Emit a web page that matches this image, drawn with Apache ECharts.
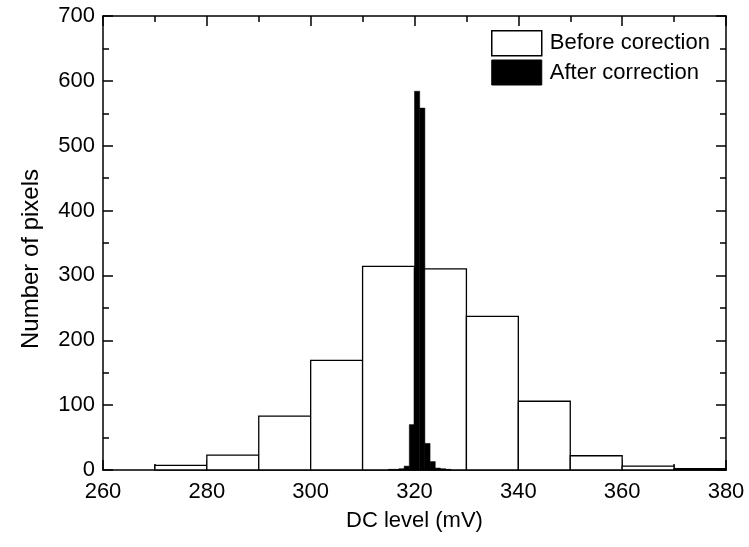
<!DOCTYPE html>
<html>
<head>
<meta charset="utf-8">
<script src="https://cdn.jsdelivr.net/npm/echarts@6/dist/echarts.min.js"></script>
<style>html,body{margin:0;padding:0;background:#fff}#c{width:749px;height:547px}</style>
</head>
<body>
<div id="c"></div>
<script>
// Before correction: 10 mV bins
const beforeBinStart = [270, 280, 290, 300, 310, 320, 330, 340, 350, 360, 370];
const beforeBinWidth = 10;
const beforeCounts   = [7, 23, 83, 169, 314, 310, 237, 106, 22, 6, 2];
// After correction: 1 mV bins
const afterBinStart = [315, 316, 317, 318, 319, 320, 321, 322, 323, 324, 325, 326];
const afterBinWidth = 1;
const afterCounts   = [1, 1, 2, 6, 70, 584, 558, 41, 13, 3, 2, 1];

const xTicks = [260, 280, 300, 320, 340, 360, 380];
const yTicks = [0, 100, 200, 300, 400, 500, 600, 700];

const FONT = 'Liberation Sans, Arial, sans-serif';
const FS = 22;

function toBins(starts, w, counts) {
  return starts.map((s, i) => [s, s + w, counts[i]]);
}

function makeRender(fill, stroke, lw) {
  return function (params, api) {
    const x0 = api.value(0), x1 = api.value(1), v = api.value(2);
    const p0 = api.coord([x0, v]);
    const p1 = api.coord([x1, 0]);
    return {
      type: 'rect',
      shape: { x: p0[0], y: p0[1], width: p1[0] - p0[0], height: p1[1] - p0[1] },
      style: { fill: fill, stroke: stroke, lineWidth: lw }
    };
  };
}

const axisCommon = {
  axisLine: { show: true, onZero: false, lineStyle: { color: '#000', width: 1.5 } },
  axisTick: { show: true, inside: true, length: 10, lineStyle: { color: '#000', width: 1.5 } },
  minorTick: { show: true, splitNumber: 2, length: 6, lineStyle: { color: '#000', width: 1.5 } },
  splitLine: { show: false }
};

const chart = echarts.init(document.getElementById('c'), null, { renderer: 'canvas' });
chart.setOption({
  animation: false,
  backgroundColor: '#fff',
  grid: { left: 103, right: 23, top: 16, bottom: 77 },
  legend: {
    orient: 'vertical',
    left: 491, top: 30,
    padding: 0,
    itemWidth: 50, itemHeight: 25, itemGap: 3,
    icon: 'rect',
    textStyle: { fontFamily: FONT, fontSize: FS, color: '#000', padding: [0, 0, 0, 3] },
    data: [
      { name: 'Before corection', itemStyle: { color: '#fff', borderColor: '#000', borderWidth: 1.5 } },
      { name: 'After correction', itemStyle: { color: '#000', borderColor: '#000', borderWidth: 1 } }
    ]
  },
  xAxis: [
    Object.assign({
      type: 'value', position: 'bottom', min: xTicks[0], max: xTicks[xTicks.length - 1], interval: 20,
      name: 'DC level (mV)', nameLocation: 'middle', nameGap: 40,
      nameTextStyle: { fontFamily: FONT, fontSize: FS, color: '#000' },
      axisLabel: { fontFamily: FONT, fontSize: FS, color: '#000', margin: 11 }
    }, axisCommon),
    Object.assign({
      type: 'value', position: 'top', min: xTicks[0], max: xTicks[xTicks.length - 1], interval: 20,
      axisLabel: { show: false }
    }, axisCommon)
  ],
  yAxis: [
    Object.assign({
      type: 'value', position: 'left', min: yTicks[0], max: yTicks[yTicks.length - 1], interval: 100,
      name: 'Number of pixels', nameLocation: 'middle', nameGap: 60,
      nameTextStyle: { fontFamily: FONT, fontSize: 24, color: '#000', padding: [0, 32, 0, 0] },
      axisLabel: { fontFamily: FONT, fontSize: FS, color: '#000', margin: 8 }
    }, axisCommon),
    Object.assign({
      type: 'value', position: 'right', min: yTicks[0], max: yTicks[yTicks.length - 1], interval: 100,
      axisLabel: { show: false }
    }, axisCommon)
  ],
  series: [
    {
      name: 'Before corection', type: 'custom', xAxisIndex: 0, yAxisIndex: 0,
      itemStyle: { color: '#fff', borderColor: '#000' },
      renderItem: makeRender('#fff', '#000', 1.3),
      data: toBins(beforeBinStart, beforeBinWidth, beforeCounts),
      z: 2
    },
    {
      name: 'After correction', type: 'custom', xAxisIndex: 0, yAxisIndex: 0,
      itemStyle: { color: '#000' },
      renderItem: makeRender('#000', '#000', 0.5),
      data: toBins(afterBinStart, afterBinWidth, afterCounts),
      z: 3
    }
  ]
});
</script>
</body>
</html>
